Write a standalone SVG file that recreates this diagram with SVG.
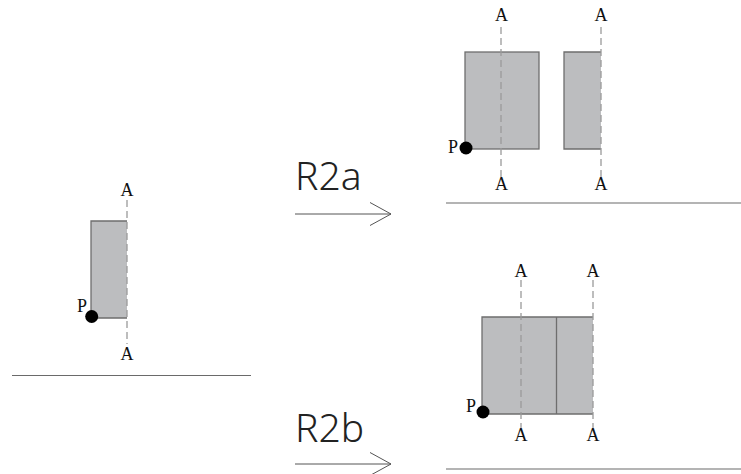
<svg xmlns="http://www.w3.org/2000/svg" width="741" height="474" viewBox="0 0 741 474">
<style>
.bg{fill:#ffffff}
.blk{fill:#bcbdbf;stroke:none}
.edge{fill:none;stroke:#6e6e6e;stroke-width:1.3}
.axis{fill:none;stroke:#9a9a9a;stroke-width:1.3;stroke-dasharray:7,4}
.ground{fill:none;stroke:#6a6a6a;stroke-width:1.2}
.lbl{font-family:"Liberation Serif",serif;font-size:18px;fill:#111}
.dot{fill:#000}
.rule{font-family:"Noto Sans","Liberation Sans",sans-serif;font-weight:300;font-size:39px;fill:#222}
.arr{fill:none;stroke:#555;stroke-width:1}
</style>
<rect class="bg" x="0" y="0" width="741" height="474"/>

<g id="ground-left"><line class="ground" x1="12" y1="375.5" x2="251" y2="375.5"/></g>
<g id="ground-top"><line class="ground" x1="446" y1="203" x2="741" y2="203"/></g>
<g id="ground-bottom"><line class="ground" x1="446" y1="469" x2="741" y2="469"/></g>

<g id="initial">
  <rect class="blk" x="91" y="221" width="36" height="97"/>
  <path class="edge" d="M127,221 H91 V318 H127"/>
  <line class="axis" x1="127" y1="200" x2="127" y2="344"/>
  <text class="lbl" x="127" y="196" text-anchor="middle">A</text>
  <text class="lbl" x="127" y="360" text-anchor="middle">A</text>
  <circle class="dot" cx="91.7" cy="316.5" r="6.5"/>
  <text class="lbl" x="82" y="312" text-anchor="middle">P</text>
</g>

<g id="rule-R2a">
  <text class="rule" x="295" y="190">R2a</text>
  <line class="arr" x1="295" y1="214" x2="391" y2="214"/>
  <polyline class="arr" points="370,202.5 391,214 370,225.5"/>
</g>

<g id="rule-R2b">
  <text class="rule" x="295" y="442">R2b</text>
  <line class="arr" x1="295" y1="464" x2="391" y2="464"/>
  <polyline class="arr" points="370,452.5 391,464 370,475.5"/>
</g>

<g id="result-a">
  <rect class="blk" x="465" y="52" width="74" height="97"/>
  <rect class="edge" x="465" y="52" width="74" height="97"/>
  <rect class="blk" x="564" y="52" width="37" height="97"/>
  <path class="edge" d="M601,52 H564 V149 H601"/>
  <line class="axis" x1="501" y1="27" x2="501" y2="177"/>
  <line class="axis" x1="601" y1="27" x2="601" y2="177"/>
  <text class="lbl" x="501.5" y="21" text-anchor="middle">A</text>
  <text class="lbl" x="601" y="21" text-anchor="middle">A</text>
  <text class="lbl" x="501.5" y="190" text-anchor="middle">A</text>
  <text class="lbl" x="601" y="190" text-anchor="middle">A</text>
  <circle class="dot" cx="466" cy="148" r="6.5"/>
  <text class="lbl" x="453" y="153" text-anchor="middle">P</text>
</g>

<g id="result-b">
  <rect class="blk" x="482" y="317" width="111" height="97"/>
  <path class="edge" d="M593,317 H482 V414 H593"/>
  <line class="edge" x1="556.5" y1="317" x2="556.5" y2="414"/>
  <line class="axis" x1="521" y1="280" x2="521" y2="428"/>
  <line class="axis" x1="593" y1="280" x2="593" y2="428"/>
  <text class="lbl" x="521" y="277" text-anchor="middle">A</text>
  <text class="lbl" x="593" y="277" text-anchor="middle">A</text>
  <text class="lbl" x="521" y="441" text-anchor="middle">A</text>
  <text class="lbl" x="593" y="441" text-anchor="middle">A</text>
  <circle class="dot" cx="483" cy="412" r="6.5"/>
  <text class="lbl" x="471" y="412" text-anchor="middle">P</text>
</g>
</svg>
